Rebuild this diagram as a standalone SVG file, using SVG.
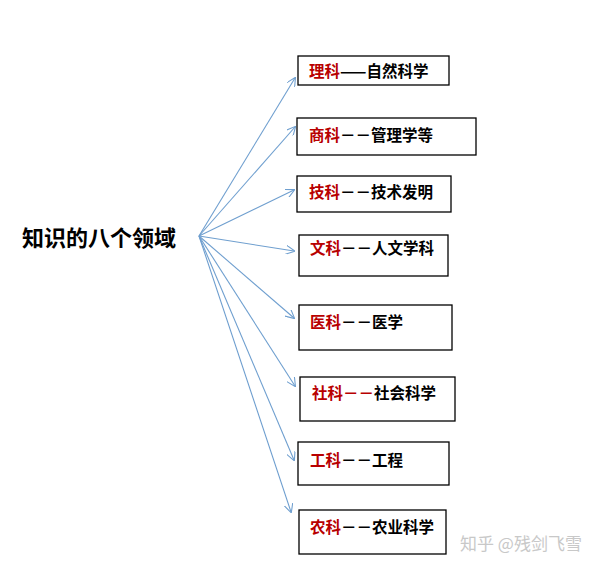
<svg xmlns="http://www.w3.org/2000/svg" width="610" height="571" viewBox="0 0 610 571">
<style>
text{font-family:"Noto Sans CJK SC","Noto Sans",sans-serif;font-weight:bold;font-size:15.5px;fill:#000}
.r{fill:#b80000}
rect{fill:#fff;stroke:#000;stroke-width:1.3}
.c line{stroke:#6f9fcf;stroke-width:1.1;marker-end:url(#a)}
</style>
<defs><marker id="a" viewBox="0 0 10 10" refX="9" refY="5" markerWidth="9" markerHeight="9" orient="auto" markerUnits="userSpaceOnUse"><path d="M0,0L10,5L0,10" fill="none" stroke="#6f9fcf" stroke-width="1.2"/></marker></defs>
<rect width="610" height="571" style="stroke:none"/>
<text x="22" y="246" style="font-size:22px">知识的八个领域</text>
<g class="c">
<line x1="199" y1="236" x2="295" y2="78"/>
<line x1="199" y1="236" x2="295" y2="127"/>
<line x1="199" y1="236" x2="294" y2="190"/>
<line x1="199" y1="236" x2="294" y2="251"/>
<line x1="199" y1="236" x2="294" y2="318"/>
<line x1="199" y1="236" x2="295" y2="386"/>
<line x1="199" y1="236" x2="294" y2="460"/>
<line x1="199" y1="236" x2="291" y2="512"/>
</g>
<g id="n1"><rect x="298" y="56" width="151" height="29"/><text x="309" y="77"><tspan class="r">理科</tspan>——自然科学</text></g>
<g id="n2"><rect x="297" y="118" width="179" height="37"/><text x="309" y="141"><tspan class="r">商科</tspan>－－管理学等</text></g>
<g id="n3"><rect x="297" y="176" width="154" height="36"/><text x="309" y="198"><tspan class="r">技科</tspan>－－技术发明</text></g>
<g id="n4"><rect x="299" y="235" width="149" height="41"/><text x="310" y="254"><tspan class="r">文科</tspan>－－人文学科</text></g>
<g id="n5"><rect x="299" y="305" width="153" height="45"/><text x="310" y="328"><tspan class="r">医科</tspan>－－医学</text></g>
<g id="n6"><rect x="300" y="377" width="155" height="44"/><text x="312" y="399"><tspan class="r">社科－－</tspan>社会科学</text></g>
<g id="n7"><rect x="298" y="442" width="151" height="43"/><text x="310" y="466"><tspan class="r">工科</tspan>－－工程</text></g>
<g id="n8"><rect x="299" y="510" width="147" height="44"/><text x="310" y="533"><tspan class="r">农科</tspan>－－农业科学</text></g>
<text x="460" y="550" style="font-size:17px;font-weight:normal;fill:#c8c8c8">知乎 @残剑飞雪</text>
</svg>
